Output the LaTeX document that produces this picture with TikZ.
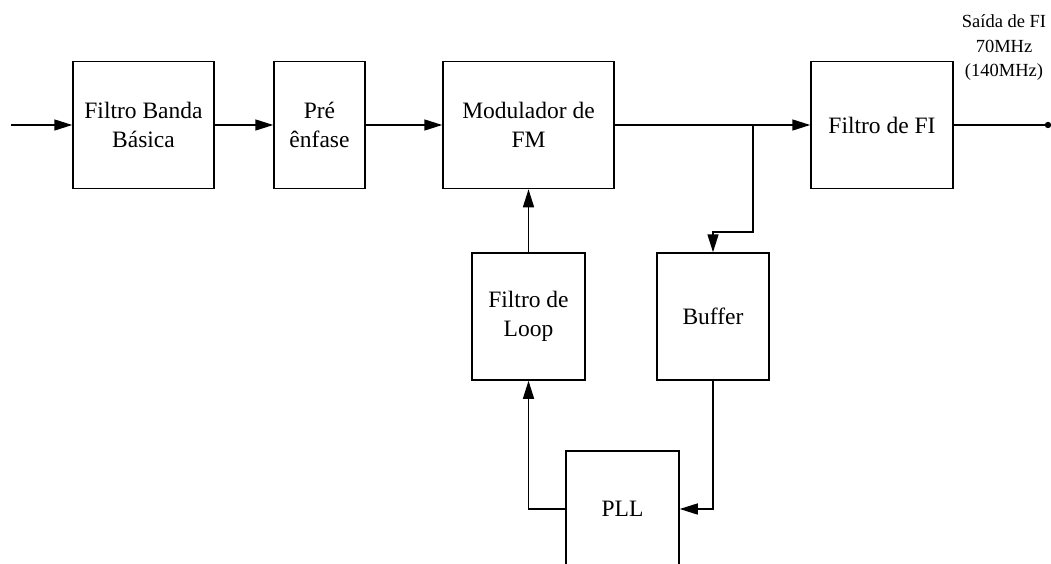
\documentclass[tikz,border=0pt]{standalone}
\usepackage{fontspec}
\setmainfont{Liberation Serif}
\usetikzlibrary{arrows.meta}
\begin{document}
\begin{tikzpicture}[x=1pt,y=-1pt,
  blk/.style={draw,line width=1.5pt,rectangle,minimum height=127pt,inner sep=0pt,align=center,font=\fontsize{23.5}{28.5}\selectfont},
  conn/.style={line width=1.5pt},
  arr/.style={conn,-{Triangle[length=18pt,width=11pt]}}]
\useasboundingbox (0,0) rectangle (1051,564);
\clip (0,0) rectangle (1051,564);
\fill[white] (0,0) rectangle (1051,564);
\node[blk,minimum width=141pt] (fbb) at (143.5,125) {Filtro Banda\\Básica};
\node[blk,minimum width=91pt] (pre) at (319.5,125) {Pré\\ênfase};
\node[blk,minimum width=171pt] (mod) at (528.5,125) {Modulador de\\FM};
\node[blk,minimum width=142pt] (ffi) at (882,125) {Filtro de FI};
\node[blk,minimum width=113pt] (loop) at (528.5,316.5) {Filtro de\\Loop};
\node[blk,minimum width=112pt] (buf) at (713,316.5) {Buffer};
\node[blk,minimum width=113pt,minimum height=116pt] (pll) at (622.5,509) {PLL};
\node[align=center,inner sep=0pt,font=\fontsize{18.5}{24.5}\selectfont] (lbl) at (1004,48) {Saída de FI\\70MHz\\(140MHz)};
\coordinate (in) at (11,125);
\coordinate (out) at (1048,125);
\coordinate (br) at (753,125);
\coordinate (br2) at (753,232);
\coordinate (br3) at (713,232);
\coordinate (pb) at (713,509);
\coordinate (pl) at (528.5,509);
\draw[arr] (in) -- (fbb.west);
\draw[arr] (fbb.east) -- (pre.west);
\draw[arr] (pre.east) -- (mod.west);
\draw[arr] (mod.east) -- (ffi.west);
\draw[conn] (ffi.east) -- (out);
\fill (out) circle (3.2pt);
\draw[arr] (br) -- (br2) -- (br3) -- (buf.north);
\draw[arr] (loop.north) -- (mod.south);
\draw[arr] (buf.south) -- (pb) -- (pll.east);
\draw[arr] (pll.west) -- (pl) -- (loop.south);
\end{tikzpicture}
\end{document}
